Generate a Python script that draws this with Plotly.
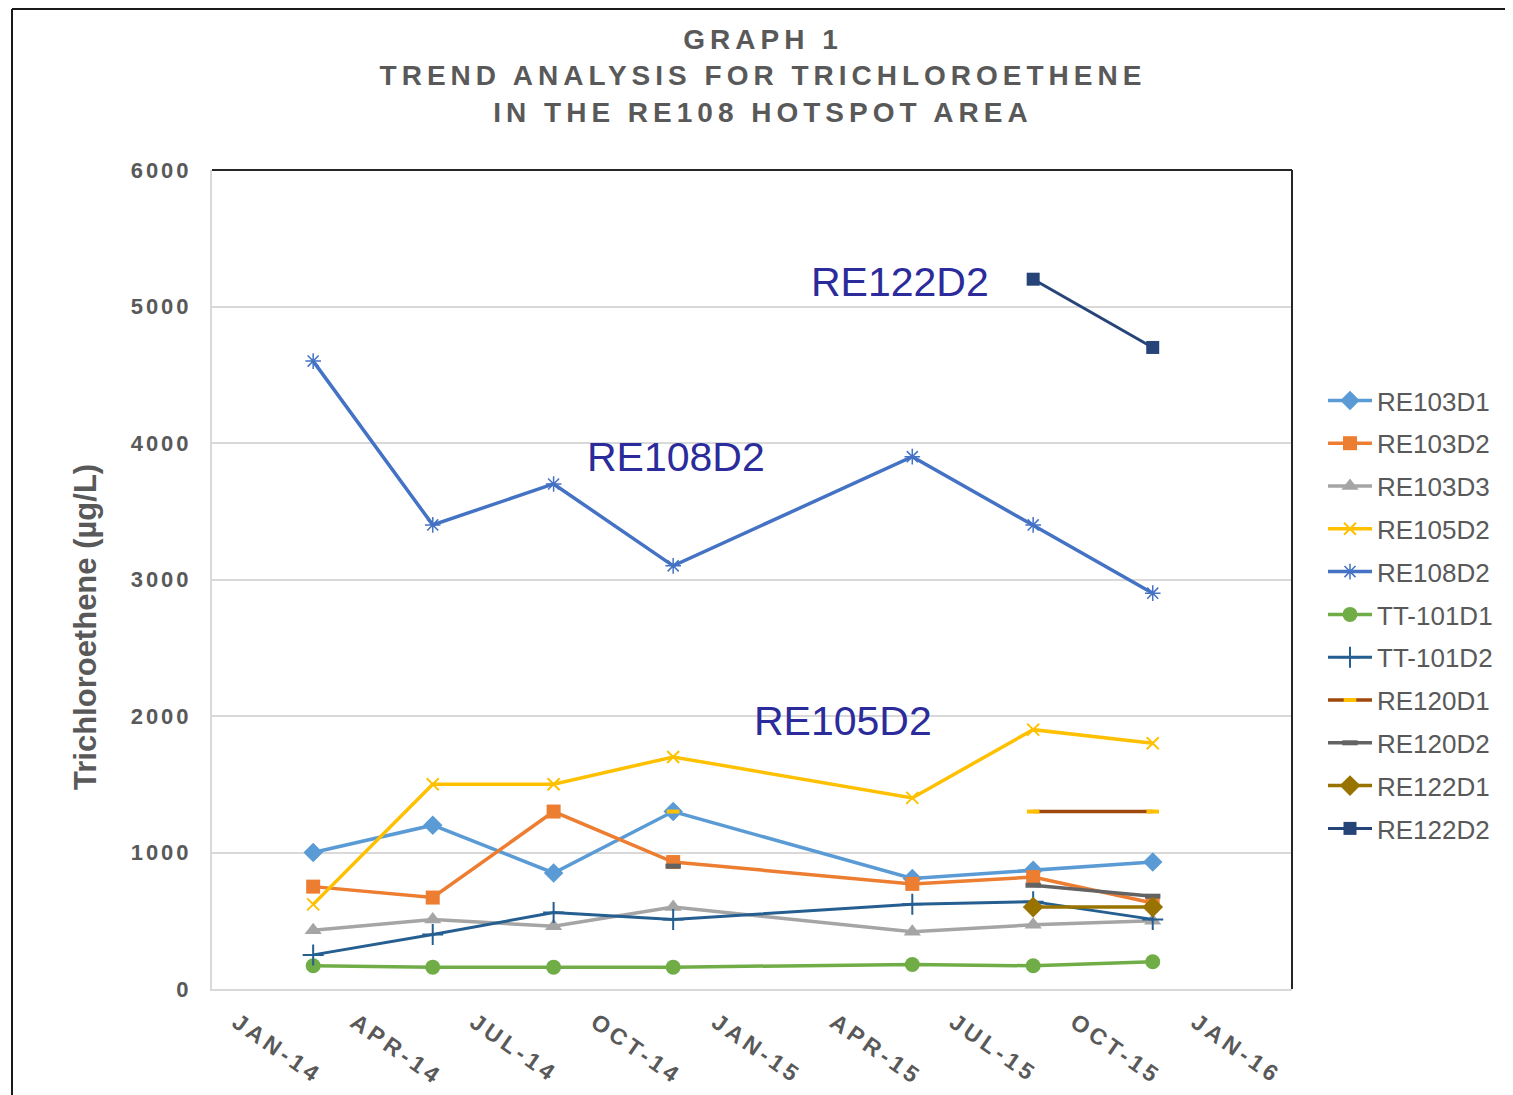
import plotly.graph_objects as go

# ---------------- data ----------------
dates = ["2014-03-06", "2014-06-05", "2014-09-05", "2014-12-05",
         "2015-06-05", "2015-09-05", "2015-12-05"]

re103d1 = [1000, 1200, 850, 1300, 810, 870, 930]
re103d2 = [750, 670, 1300, 930, 770, 820, 630]
re103d3 = [430, 510, 460, 600, 420, 470, 500]
re105d2 = [620, 1500, 1500, 1700, 1400, 1900, 1800]
re108d2 = [4600, 3400, 3700, 3100, 3900, 3400, 2900]
tt101d1 = [170, 160, 160, 160, 180, 170, 200]
tt101d2 = [250, 400, 560, 510, 620, 640, 510]
re120d1 = [None, None, None, 1300, None, 1300, 1300]
re120d2 = [None, None, None, 900, None, 760, 680]
re122d1 = [None, None, None, None, None, 600, 600]
re122d2 = [None, None, None, None, None, 5200, 4700]

tick_vals = ["2014-01-01", "2014-04-01", "2014-07-01", "2014-10-01", "2015-01-01",
             "2015-04-01", "2015-07-01", "2015-10-01", "2016-01-01"]
tick_text = ["JAN-14", "APR-14", "JUL-14", "OCT-14", "JAN-15",
             "APR-15", "JUL-15", "OCT-15", "JAN-16"]
y_ticks = [0, 1000, 2000, 3000, 4000, 5000, 6000]

callouts = ["RE122D2", "RE108D2", "RE105D2"]

FONT = "Liberation Sans, Arial, sans-serif"
GRAY = "#595959"

series = [
    ("RE103D1", re103d1, "#5B9BD5", dict(symbol="diamond", size=15, color="#5B9BD5")),
    ("RE103D2", re103d2, "#ED7D31", dict(symbol="square", size=14, color="#ED7D31")),
    ("RE103D3", re103d3, "#A5A5A5", dict(symbol="triangle-up", size=15, color="#A5A5A5")),
    ("RE105D2", re105d2, "#FFC000", dict(symbol="x-thin-open", size=12, color="#FFC000",
                                          line=dict(color="#FFC000", width=2))),
    ("RE108D2", re108d2, "#4472C4", dict(symbol="asterisk-open", size=13, color="#4472C4",
                                          line=dict(color="#4472C4", width=1.5))),
    ("TT-101D1", tt101d1, "#70AD47", dict(symbol="circle", size=15, color="#70AD47")),
    ("TT-101D2", tt101d2, "#255E91", dict(symbol="cross-thin-open", size=15, color="#255E91",
                                           line=dict(color="#255E91", width=2))),
    ("RE120D1", re120d1, "#9E480E", dict(symbol="line-ew-open", size=9, color="#FFC000",
                                          line=dict(color="#FFC000", width=4))),
    ("RE120D2", re120d2, "#636363", dict(symbol="line-ew-open", size=11, color="#636363",
                                          line=dict(color="#636363", width=5))),
    ("RE122D1", re122d1, "#997300", dict(symbol="diamond", size=16, color="#997300")),
    ("RE122D2", re122d2, "#264478", dict(symbol="square", size=13, color="#264478")),
]

fig = go.Figure()
for i, (name, vals, col, mk) in enumerate(series):
    fig.add_trace(go.Scatter(
        x=dates, y=vals, name=name, mode="lines+markers",
        line=dict(color=col, width=3.5 if name not in ("RE122D2", "TT-101D2") else 3),
        marker=mk, connectgaps=False, legendgroup=f"g{i}",
    ))

# The page has an 8px body margin; coordinates below are screen pixels.
OFF = 8
W, H = 1513 - OFF, 1095 - OFF
PL, PR, PT, PB = 212, 1292, 170, 989          # plot area on screen
L, T = PL - OFF, PT - OFF
PW, PH = PR - PL, PB - PT
R, B = W - L - PW, H - T - PH


def px(x):
    return (x - PL) / PW


def py(y):
    return (PB - y) / PH


ann_pos = [(900, 282), (676, 457), (843, 721)]
annotations = []
for txt, (ax, ay) in zip(callouts, ann_pos):
    annotations.append(dict(text=txt, x=px(ax), y=py(ay), xref="paper", yref="paper",
                            showarrow=False, xanchor="center", yanchor="middle",
                            font=dict(family=FONT, size=41, color="#2B2B9B")))
annotations.append(dict(text="<b>Trichloroethene (µg/L)</b>", x=px(85), y=py(627),
                        xref="paper", yref="paper", showarrow=False, textangle=-90,
                        xanchor="center", yanchor="middle",
                        font=dict(family=FONT, size=31, color=GRAY)))

shapes = [
    dict(type="line", xref="paper", yref="paper", x0=0, x1=1, y0=1, y1=1,
         line=dict(color="#262626", width=2)),
    dict(type="line", xref="paper", yref="paper", x0=1, x1=1, y0=0, y1=1,
         line=dict(color="#262626", width=2)),
    # outer frame of the picture
    dict(type="line", xref="paper", yref="paper", x0=px(12), x1=px(12), y0=py(1100), y1=py(9),
         line=dict(color="#1a1a1a", width=2)),
    dict(type="line", xref="paper", yref="paper", x0=px(12), x1=px(1520), y0=py(9), y1=py(9),
         line=dict(color="#1a1a1a", width=2)),
]

fig.update_layout(
    width=W, height=H,
    margin=dict(l=L, r=R, t=T, b=B),
    paper_bgcolor="white", plot_bgcolor="white",
    title=dict(text="<b>GRAPH 1<br>TREND ANALYSIS FOR TRICHLOROETHENE<br>IN THE RE108 HOTSPOT AREA</b>",
               x=px(763), xanchor="center", xref="paper",
               y=1 - 41 / H, yanchor="top", yref="container",
               font=dict(family=FONT, size=28, color=GRAY)),
    xaxis=dict(type="date", range=["2013-12-19", "2016-03-20"],
               tickvals=tick_vals, ticktext=tick_text, tickangle=35,
               tickfont=dict(family=FONT, size=23, color=GRAY, weight="bold"),
               showgrid=False, showline=True, linecolor="#D9D9D9", linewidth=2,
               ticks="", ticklabelstandoff=9, ticklabelshift=8, zeroline=False),
    yaxis=dict(range=[0, 6000], tickvals=y_ticks,
               tickfont=dict(family=FONT, size=22, color=GRAY, weight="bold"),
               showgrid=True, gridcolor="#D9D9D9", gridwidth=1.5,
               showline=True, linecolor="#D9D9D9", linewidth=2,
               ticks="", ticklabelstandoff=14, zeroline=False),
    legend=dict(x=px(1323), y=py(377), xanchor="left", yanchor="top",
                font=dict(family=FONT, size=26, color=GRAY),
                tracegroupgap=6, itemwidth=44, bgcolor="rgba(0,0,0,0)"),
    annotations=annotations,
    shapes=shapes,
    showlegend=True,
)

post = """
var gd = document.getElementById('{plot_id}');
function spacing(){
  gd.querySelectorAll('.gtitle').forEach(function(e){e.style.letterSpacing='5px';});
  gd.querySelectorAll('.xtick text').forEach(function(e){e.style.letterSpacing='4px';});
  gd.querySelectorAll('.ytick text').forEach(function(e){e.style.letterSpacing='3px';});
}
spacing();
"""

fig.write_html("out.html", post_script=post)
